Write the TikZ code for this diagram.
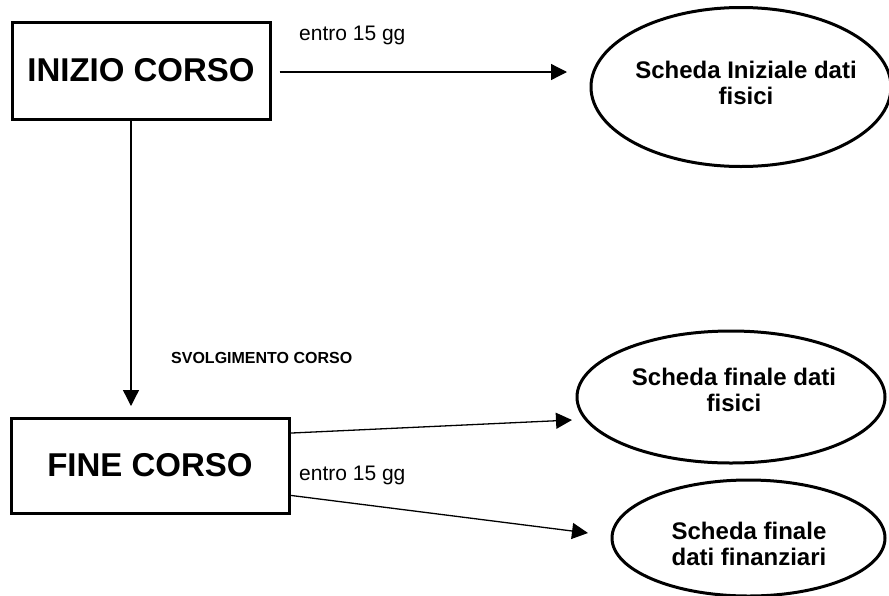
\documentclass[tikz,border=0pt]{standalone}
\usepackage{fontspec}
\setmainfont{Liberation Sans}
\usetikzlibrary{shapes.geometric, arrows.meta}

\begin{document}
\begin{tikzpicture}[x=1pt, y=-1pt,
  box/.style={draw, line width=3pt, inner sep=0pt, font=\fontsize{33}{39}\selectfont\bfseries},
  oval/.style={ellipse, draw, line width=3pt, inner sep=0pt},
  ovaltext/.style={align=center, inner sep=0pt, font=\fontsize{24}{26}\selectfont\bfseries},
  lbl/.style={inner sep=0pt, anchor=base west, font=\fontsize{21}{25}\selectfont},
  conn/.style={-{Triangle[length=16pt, width=16pt]}, line width=1.3pt}]
\useasboundingbox (0,0) rectangle (889,595);

\node(ini)[box, minimum width=258pt, minimum height=97pt] at (141,70.5) {INIZIO CORSO};
\node(fin)[box, minimum width=278pt, minimum height=95pt] at (150,465.5) {FINE CORSO};

\node(sif)[oval, minimum width=300pt, minimum height=159pt] at (741,87) {};
\node(sff)[oval, minimum width=308pt, minimum height=132pt] at (731,397) {};
\node(sfd)[oval, minimum width=273pt, minimum height=116pt] at (748.5,538) {};

\node(sif-t)[ovaltext] at (746,82.5) {Scheda Iniziale dati\\fisici};
\node(sff-t)[ovaltext] at (734,390) {Scheda finale dati\\fisici};
\node(sfd-t)[ovaltext] at (749,544) {Scheda finale\\dati finanziari};

\node(gg1)[lbl] at (299,40) {entro 15 gg};
\node(gg2)[lbl] at (299,480) {entro 15 gg};
\node(svol)[anchor=base west, inner sep=0pt, font=\fontsize{16}{19}\selectfont\bfseries] at (171,363) {SVOLGIMENTO CORSO};

\coordinate(t0) at (131,406);
\coordinate(t1) at (567,72);
\coordinate(t2) at (572,420);
\coordinate(t3) at (588,533);

\draw[conn] (ini.south -| t0) -- (t0);
\draw[conn, shorten <=8pt] (ini.east |- t1) -- (t1);
\draw[conn] (fin.13) -- (t2);
\draw[conn] (fin.-12) -- (t3);
\end{tikzpicture}
\end{document}
